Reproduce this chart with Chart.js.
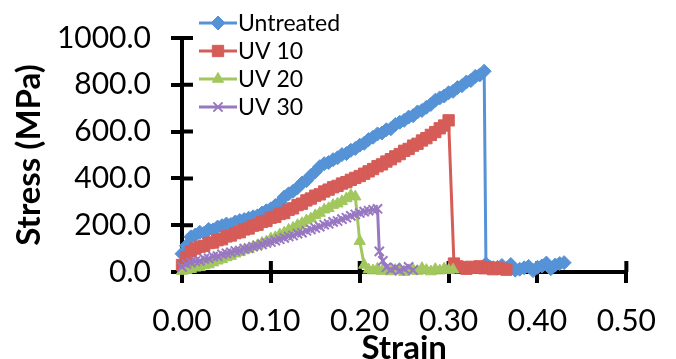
<!DOCTYPE html>
<html>
<head>
<meta charset="utf-8">
<script src="https://cdn.jsdelivr.net/npm/chart.js@4.4.1/dist/chart.umd.min.js"></script>
<style>
    html, body { margin: 0; padding: 0; background: #fff; }
    #wrap { width: 676px; height: 359px; position: relative; }
</style>
</head>
<body>
<div id="wrap"><canvas id="chart"></canvas></div>
<script>
// values
const untreatedStrain = [
    0, 0.005, 0.01, 0.015, 0.02, 0.025, 0.03, 0.035, 0.04, 0.045,
    0.05, 0.055, 0.06, 0.065, 0.07, 0.075, 0.08, 0.085, 0.09, 0.095,
    0.1, 0.105, 0.11, 0.115, 0.12, 0.125, 0.13, 0.135, 0.14, 0.145,
    0.15, 0.155, 0.16, 0.165, 0.17, 0.175, 0.18, 0.185, 0.19, 0.195,
    0.2, 0.205, 0.21, 0.215, 0.22, 0.225, 0.23, 0.235, 0.24, 0.245,
    0.25, 0.255, 0.26, 0.265, 0.27, 0.275, 0.28, 0.285, 0.29, 0.295,
    0.3, 0.305, 0.31, 0.315, 0.32, 0.325, 0.33, 0.335, 0.34,
    0.342, 0.346, 0.35, 0.355, 0.36, 0.365, 0.37, 0.375, 0.38, 0.385,
    0.39, 0.395, 0.4, 0.405, 0.41, 0.415, 0.42, 0.425, 0.43,
];
const untreatedStress = [
    78, 112, 150, 158, 170, 166, 182, 180, 192, 198,
    205, 203, 214, 220, 224, 230, 236, 240, 252, 262,
    270, 284, 296, 320, 334, 345, 360, 380, 390, 412,
    428, 450, 463, 468, 480, 488, 502, 506, 520, 528,
    542, 550, 566, 576, 590, 594, 608, 612, 630, 640,
    648, 662, 668, 684, 690, 704, 716, 734, 744, 752,
    766, 772, 788, 796, 812, 818, 836, 842, 858,
    35, 22, 18, 20, 28, 15, 32, 8, 12, 18,
    24, 6, 20, 26, 38, 14, 30, 36, 40,
];

const uv10Strain = [
    0, 0.005, 0.01, 0.015, 0.02, 0.025, 0.03, 0.035, 0.04, 0.045,
    0.05, 0.055, 0.06, 0.065, 0.07, 0.075, 0.08, 0.085, 0.09, 0.095,
    0.1, 0.105, 0.11, 0.115, 0.12, 0.125, 0.13, 0.135, 0.14, 0.145,
    0.15, 0.155, 0.16, 0.165, 0.17, 0.175, 0.18, 0.185, 0.19, 0.195,
    0.2, 0.205, 0.21, 0.215, 0.22, 0.225, 0.23, 0.235, 0.24, 0.245,
    0.25, 0.255, 0.26, 0.265, 0.27, 0.275, 0.28, 0.285, 0.29, 0.295,
    0.3,
    0.306, 0.31, 0.315, 0.32, 0.325, 0.33, 0.335, 0.34, 0.345, 0.35,
    0.355, 0.36, 0.365,
];
const uv10Stress = [
    30, 62, 88, 100, 108, 112, 124, 126, 136, 140,
    152, 156, 166, 170, 182, 186, 198, 202, 214, 218,
    232, 236, 248, 252, 266, 272, 286, 292, 306, 314,
    326, 332, 344, 352, 362, 368, 378, 384, 394, 402,
    410, 420, 430, 440, 452, 460, 472, 482, 494, 504,
    518, 526, 540, 548, 562, 572, 586, 598, 614, 626,
    648,
    36, 24, 20, 14, 22, 18, 24, 16, 20, 12,
    18, 14, 10,
];

const uv20Strain = [
    0, 0.005, 0.01, 0.015, 0.02, 0.025, 0.03, 0.035, 0.04, 0.045,
    0.05, 0.055, 0.06, 0.065, 0.07, 0.075, 0.08, 0.085, 0.09, 0.095,
    0.1, 0.105, 0.11, 0.115, 0.12, 0.125, 0.13, 0.135, 0.14, 0.145,
    0.15, 0.155, 0.16, 0.165, 0.17, 0.175, 0.18, 0.185, 0.19, 0.195,
    0.2, 0.205, 0.21,
    0.215, 0.22, 0.225, 0.23, 0.235, 0.24, 0.245, 0.25, 0.255, 0.26,
    0.265, 0.27, 0.275, 0.28, 0.285, 0.29, 0.295, 0.3, 0.305,
];
const uv20Stress = [
    4, 8, 12, 18, 20, 28, 32, 40, 48, 54,
    62, 68, 78, 84, 92, 98, 108, 114, 124, 130,
    142, 148, 160, 168, 180, 188, 200, 208, 220, 228,
    242, 252, 266, 272, 286, 292, 302, 314, 328, 322,
    132, 30, 10,
    6, 14, 4, 10, 2, 8, 12, 0, 6, 10,
    4, 16, 8, 2, 12, 6, 14, 8, 10,
];

const uv30Strain = [
    0, 0.005, 0.01, 0.015, 0.02, 0.025, 0.03, 0.035, 0.04, 0.045,
    0.05, 0.055, 0.06, 0.065, 0.07, 0.075, 0.08, 0.085, 0.09, 0.095,
    0.1, 0.105, 0.11, 0.115, 0.12, 0.125, 0.13, 0.135, 0.14, 0.145,
    0.15, 0.155, 0.16, 0.165, 0.17, 0.175, 0.18, 0.185, 0.19, 0.195,
    0.2, 0.205, 0.21, 0.215, 0.22,
    0.222, 0.226, 0.23, 0.235, 0.24, 0.245, 0.25, 0.255, 0.26,
];
const uv30Stress = [
    22, 34, 40, 46, 48, 56, 58, 66, 68, 76,
    80, 84, 90, 92, 100, 102, 108, 112, 118, 124,
    128, 134, 140, 146, 152, 156, 164, 168, 176, 182,
    188, 194, 202, 206, 214, 218, 226, 232, 240, 246,
    252, 258, 262, 266, 270,
    88, 48, 20, 10, 18, 6, 14, 22, 8,
];

const seriesNames = ['Untreated', 'UV 10', 'UV 20', 'UV 30'];
const xTicks = [0, 0.1, 0.2, 0.3, 0.4, 0.5];
const yTicks = [0, 200, 400, 600, 800, 1000];

const FONT = 'Lato';

function points(xs, ys) {
    return xs.map((x, i) => ({ x, y: ys[i] }));
}

// Excel style ticks that cross the axis line
const crossTicks = {
    id: 'crossTicks',
    beforeDatasetsDraw(chart) {
        const { ctx, chartArea, scales } = chart;
        ctx.save();
        ctx.strokeStyle = '#000';
        ctx.lineWidth = 4;
        ctx.beginPath();
        scales.y.ticks.forEach((t) => {
            const py = scales.y.getPixelForValue(t.value);
            ctx.moveTo(chartArea.left, py);
            ctx.lineTo(chartArea.left + 11, py);
        });
        scales.x.ticks.forEach((t) => {
            const px = scales.x.getPixelForValue(t.value);
            ctx.moveTo(px, chartArea.bottom);
            ctx.lineTo(px, chartArea.bottom - 11);
        });
        ctx.stroke();
        ctx.restore();
    },
};

// legend drawn in the top-left of the plot, like the original
const seriesLegend = {
    id: 'seriesLegend',
    afterDraw(chart) {
        const { ctx } = chart;
        ctx.save();
        ctx.font = '23px ' + FONT;
        ctx.textBaseline = 'middle';
        chart.data.datasets.forEach((ds, i) => {
            const y = 23 + i * 28;
            ctx.strokeStyle = ds.borderColor;
            ctx.fillStyle = ds.borderColor;
            ctx.lineWidth = 3;
            ctx.beginPath();
            ctx.moveTo(199, y);
            ctx.lineTo(237, y);
            ctx.stroke();
            ctx.lineWidth = ds.pointBorderWidth;
            if (Chart.helpers && Chart.helpers.drawPoint) {
                Chart.helpers.drawPoint(ctx, {
                    pointStyle: ds.pointStyle,
                    radius: ds.pointRadius,
                    borderWidth: ds.pointBorderWidth,
                    rotation: 0,
                }, 218, y);
            }
            ctx.fillStyle = '#000';
            ctx.fillText(ds.label, 238, y + 1);
        });
        ctx.restore();
    },
};

function series(label, xs, ys, color, style, radius, bw, order) {
    return {
        label,
        data: points(xs, ys),
        showLine: true,
        borderColor: color,
        backgroundColor: color,
        borderWidth: 3,
        pointStyle: style,
        pointRadius: radius,
        pointHoverRadius: radius,
        pointBackgroundColor: color,
        pointBorderColor: color,
        pointBorderWidth: bw,
        clip: false,
        order,
    };
}

function draw() {
    new Chart(document.getElementById('chart'), {
        type: 'scatter',
        data: {
            datasets: [
                series(seriesNames[0], untreatedStrain, untreatedStress, '#5592d6', 'rectRot', 7, 1, 3),
                series(seriesNames[1], uv10Strain, uv10Stress, '#d65c58', 'rect', 8, 1, 2),
                series(seriesNames[2], uv20Strain, uv20Stress, '#a2c75e', 'triangle', 6.5, 1, 1),
                series(seriesNames[3], uv30Strain, uv30Stress, '#9878c0', 'crossRot', 6.5, 2, 0),
            ],
        },
        options: {
            responsive: true,
            maintainAspectRatio: false,
            animation: false,
            devicePixelRatio: 1,
            layout: { padding: { left: 0, right: 46, top: 27, bottom: 0 } },
            plugins: {
                legend: { display: false },
                tooltip: { enabled: false },
            },
            scales: {
                x: {
                    type: 'linear',
                    position: 'bottom',
                    min: xTicks[0],
                    max: xTicks[xTicks.length - 1],
                    afterBuildTicks: (s) => { s.ticks = xTicks.map((v) => ({ value: v })); },
                    afterFit: (s) => { s.height = 87; },
                    ticks: {
                        callback: (v) => Number(v).toFixed(2),
                        color: '#000',
                        font: { family: FONT, size: 30 },
                        padding: 20,
                        maxRotation: 0,
                        autoSkip: false,
                    },
                    grid: { drawOnChartArea: false, drawTicks: true, tickLength: 11, color: '#000', lineWidth: 4 },
                    border: { display: true, color: '#000', width: 4 },
                    title: {
                        display: true,
                        text: 'Strain',
                        color: '#000',
                        font: { family: FONT, size: 33, weight: 'bold' },
                        padding: { top: 0, bottom: -9 },
                    },
                },
                y: {
                    min: yTicks[0],
                    max: yTicks[yTicks.length - 1],
                    afterBuildTicks: (s) => { s.ticks = yTicks.map((v) => ({ value: v })); },
                    afterFit: (s) => { s.width = 182; },
                    ticks: {
                        callback: (v) => Number(v).toFixed(1),
                        color: '#000',
                        font: { family: FONT, size: 30 },
                        padding: 20,
                    },
                    grid: { drawOnChartArea: false, drawTicks: true, tickLength: 11, color: '#000', lineWidth: 4 },
                    border: { display: true, color: '#000', width: 4 },
                    title: {
                        display: true,
                        text: 'Stress (MPa)',
                        color: '#000',
                        font: { family: FONT, size: 33, weight: 'bold' },
                        padding: { top: 10, bottom: 0 },
                    },
                },
            },
        },
        plugins: [crossTicks, seriesLegend],
    });
}

Promise.all([
    document.fonts.load('30px ' + FONT),
    document.fonts.load('bold 33px ' + FONT),
]).then(draw, draw);
</script>
</body>
</html>
